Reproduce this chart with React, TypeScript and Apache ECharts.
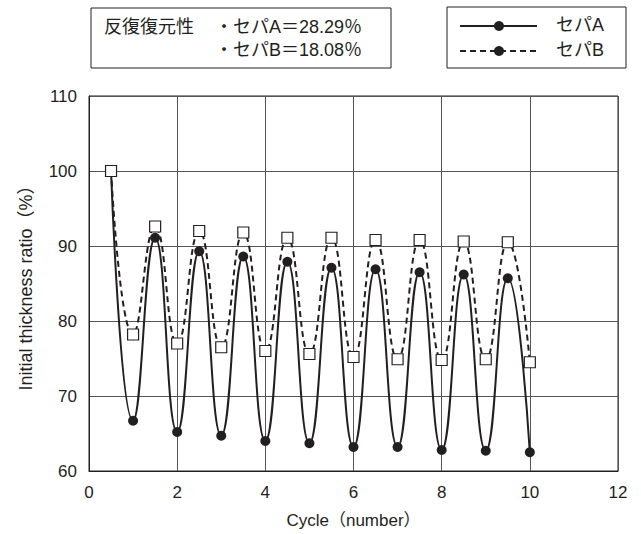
import React, { useEffect, useRef } from "react";
import * as echarts from "echarts";

const cycleA: number[] = [0.5, 1, 1.5, 2, 2.5, 3, 3.5, 4, 4.5, 5, 5.5, 6, 6.5, 7, 7.5, 8, 8.5, 9, 9.5, 10];
const ratioA: number[] = [100, 66.7, 91.1, 65.2, 89.3, 64.7, 88.6, 64.0, 87.9, 63.7, 87.1, 63.2, 86.9, 63.2, 86.5, 62.8, 86.2, 62.7, 85.7, 62.5];
const cycleB: number[] = [0.5, 1, 1.5, 2, 2.5, 3, 3.5, 4, 4.5, 5, 5.5, 6, 6.5, 7, 7.5, 8, 8.5, 9, 9.5, 10];
const ratioB: number[] = [100, 78.2, 92.6, 77.0, 92.0, 76.5, 91.8, 76.0, 91.1, 75.6, 91.1, 75.2, 90.8, 74.9, 90.8, 74.8, 90.6, 74.9, 90.5, 74.5];

const seriesNames = ["セパA", "セパB"];
const noteTitle = "反復復元性";
const noteLines = ["・セパA＝28.29％", "・セパB＝18.08％"];
const xAxisName = "Cycle（number）";
const yAxisName = "Initial thickness ratio（%）";

const FONT = "'Liberation Sans', Arial, 'Noto Sans CJK JP', sans-serif";
const TXT = "#231f20";

export default function App() {
  const ref = useRef<HTMLDivElement>(null);
  useEffect(() => {
    if (!ref.current) return;
    const chart = echarts.init(ref.current, undefined, { renderer: "svg" });
    const dataA = cycleA.map((c, i) =>
      i === 0 ? { value: [c, ratioA[i]], symbol: "none" } : { value: [c, ratioA[i]] }
    );
    const dataB = cycleB.map((c, i) => [c, ratioB[i]]);
    const textStyle = (t: string, x: number, y: number, size = 18) => ({
      type: "text",
      left: x,
      top: y,
      style: { text: t, fill: TXT, font: `${size}px ${FONT}` },
    });
    chart.setOption({
      animation: false,
      backgroundColor: "#fff",
      textStyle: { fontFamily: FONT },
      grid: { left: 89, right: 23, top: 96, bottom: 62, show: true, borderColor: "#231f20", borderWidth: 1 },
      xAxis: {
        type: "value",
        min: 0,
        max: 12,
        interval: 2,
        name: xAxisName,
        nameLocation: "middle",
        nameGap: 41,
        nameTextStyle: { fontSize: 17, color: TXT, fontFamily: FONT },
        axisLine: { show: true, lineStyle: { color: "#231f20", width: 1 } },
        axisTick: { show: false },
        axisLabel: { fontSize: 17, color: TXT, margin: 13, fontFamily: FONT },
        splitLine: { show: true, lineStyle: { color: "#555", width: 1 } },
      },
      yAxis: {
        type: "value",
        min: 60,
        max: 110,
        interval: 10,
        name: yAxisName,
        nameLocation: "middle",
        nameGap: 54,
        nameTextStyle: { fontSize: 18, color: TXT, fontFamily: FONT },
        axisLine: { show: true, lineStyle: { color: "#231f20", width: 1 } },
        axisTick: { show: false },
        axisLabel: { fontSize: 17, color: TXT, margin: 12, fontFamily: FONT },
        splitLine: { show: true, lineStyle: { color: "#555", width: 1 } },
      },
      series: [
        {
          name: seriesNames[0],
          type: "line",
          data: dataA,
          smooth: 0.5,
          symbol: "circle",
          symbolSize: 10,
          itemStyle: { color: "#231f20" },
          lineStyle: { color: "#231f20", width: 2 },
          z: 2,
        },
        {
          name: seriesNames[1],
          type: "line",
          data: dataB,
          smooth: 0.5,
          symbol: "rect",
          symbolSize: 11,
          itemStyle: { color: "#fff", borderColor: "#231f20", borderWidth: 1.2 },
          lineStyle: { color: "#231f20", width: 2, type: [6, 4] },
          z: 3,
        },
      ],
      graphic: [
        {
          type: "rect",
          shape: { x: 91, y: 8, width: 300, height: 60 },
          style: { fill: "#fff", stroke: "#231f20", lineWidth: 1 },
        },
        textStyle(noteTitle, 104, 18),
        textStyle(noteLines[0], 215, 18),
        textStyle(noteLines[1], 215, 41),
        {
          type: "rect",
          shape: { x: 447, y: 7, width: 179, height: 61 },
          style: { fill: "#fff", stroke: "#231f20", lineWidth: 1 },
        },
        {
          type: "line",
          shape: { x1: 460, y1: 26, x2: 537, y2: 26 },
          style: { stroke: "#231f20", lineWidth: 2 },
        },
        { type: "circle", shape: { cx: 499, cy: 26, r: 5 }, style: { fill: "#231f20" } },
        {
          type: "line",
          shape: { x1: 460, y1: 51, x2: 537, y2: 51 },
          style: { stroke: "#231f20", lineWidth: 2, lineDash: [6, 4] },
        },
        { type: "circle", shape: { cx: 499, cy: 51, r: 5 }, style: { fill: "#231f20" } },
        textStyle(seriesNames[0], 556, 16),
        textStyle(seriesNames[1], 556, 41),
      ],
    });
    return () => chart.dispose();
  }, []);
  return <div ref={ref} style={{ position: "fixed", left: 0, top: 0, width: 641, height: 534 }} />;
}
